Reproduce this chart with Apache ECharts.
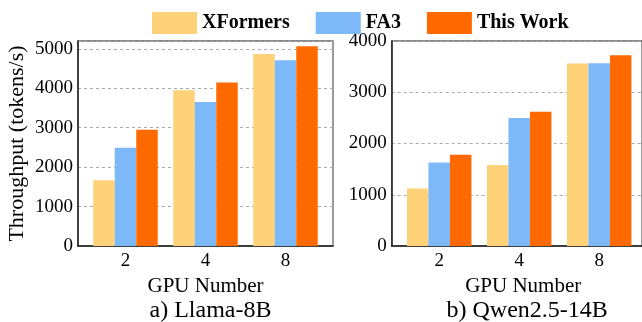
<!DOCTYPE html>
<html>
<head>
<meta charset="utf-8">
<script src="https://cdn.jsdelivr.net/npm/echarts@6/dist/echarts.min.js"></script>
<style>
html,body{margin:0;padding:0;background:#fff;}
#chart{width:642px;height:322px;}
</style>
</head>
<body>
<div id="chart"></div>
<script>
// ---- data ----
const categories = ['2', '4', '8'];
const seriesNames = ['XFormers', 'FA3', 'This Work'];
const llamaXFormers = [1670, 3950, 4870];
const llamaFA3 = [2490, 3650, 4710];
const llamaThisWork = [2950, 4150, 5070];
const qwenXFormers = [1120, 1580, 3560];
const qwenFA3 = [1630, 2500, 3565];
const qwenThisWork = [1780, 2620, 3720];
const leftTicks = [0, 1000, 2000, 3000, 4000, 5000];
const rightTicks = [0, 1000, 2000, 3000, 4000];

const colors = ['#FFD27A', '#7DB8F9', '#FF6A00'];
const FONT = '"Liberation Serif", "Times New Roman", serif';

const chart = echarts.init(document.getElementById('chart'), null, {renderer: 'canvas'});

const TOP = 41, H = 205, W = 255, INSET = 7.5;
const panels = [
  {left: 78, max: 5200, ticks: leftTicks, data: [llamaXFormers, llamaFA3, llamaThisWork], name: 'Throughput (tokens/s)', title: 'a) Llama-8B', tShift: 0, nShift: 0},
  {left: 391.7, max: 4000, ticks: rightTicks, data: [qwenXFormers, qwenFA3, qwenThisWork], name: '', title: 'b) Qwen2.5-14B', tShift: 3, nShift: 8}
];

const grid = [], xAxis = [], yAxis = [], series = [], title = [];
panels.forEach((p, i) => {
  // frame grid
  grid.push({left: p.left, top: TOP, width: W, height: H, show: true, borderColor: '#666', borderWidth: 1.3, containLabel: false});
  // bar grid
  grid.push({left: p.left + INSET, top: TOP, width: W - 2 * INSET, height: H, show: false, containLabel: false});
  const fg = 2 * i, bg = 2 * i + 1;
  xAxis.push({gridIndex: fg, type: 'value', min: 0, max: 1, axisLine: {show: true, onZero: false, lineStyle: {color: '#222', width: 1.5}}, axisTick: {show: false}, axisLabel: {show: false}, splitLine: {show: false}});
  xAxis.push({gridIndex: bg, type: 'category', data: categories, axisLine: {show: false}, axisTick: {show: false},
    axisLabel: {color: '#000', fontFamily: FONT, fontSize: 19, margin: 6},
    name: 'GPU Number', nameLocation: 'middle', nameGap: 23,
    nameTextStyle: {color: '#000', fontFamily: FONT, fontSize: 21, padding: [0, 0, 0, p.nShift]}});
  yAxis.push({gridIndex: fg, type: 'value', min: 0, max: p.max, interval: 1000,
    axisLine: {show: true, lineStyle: {color: '#222', width: 1.5}}, axisTick: {show: false},
    axisLabel: {color: '#000', fontFamily: FONT, fontSize: 19, margin: 5, showMaxLabel: p.max % 1000 === 0,
      formatter: v => (p.ticks.indexOf(v) >= 0 ? String(v) : '')},
    splitLine: {show: true, lineStyle: {color: '#aaa', width: 1, type: [3, 3]}},
    name: p.name, nameLocation: 'middle', nameGap: 50, nameTextStyle: {color: '#000', fontFamily: FONT, fontSize: 22}});
  yAxis.push({gridIndex: bg, type: 'value', min: 0, max: p.max, show: false, splitLine: {show: false}});
  p.data.forEach((d, k) => {
    series.push({type: 'bar', name: seriesNames[k], xAxisIndex: bg, yAxisIndex: bg, data: d,
      barWidth: 21.5, barGap: '0%', itemStyle: {color: colors[k]}, emphasis: {disabled: true}});
  });
  title.push({text: p.title, left: p.left + W / 2 + p.tShift, top: 294, textAlign: 'center',
    textStyle: {color: '#000', fontFamily: FONT, fontSize: 24, fontWeight: 'normal'}});
});

chart.setOption({
  animation: false,
  title: title,
  legend: {data: seriesNames, left: 147, top: 7, itemWidth: 45, itemHeight: 22, itemGap: 26, icon: 'rect',
    textStyle: {color: '#000', fontFamily: FONT, fontSize: 20, fontWeight: 'bold'}},
  grid: grid, xAxis: xAxis, yAxis: yAxis, series: series
});
</script>
</body>
</html>
